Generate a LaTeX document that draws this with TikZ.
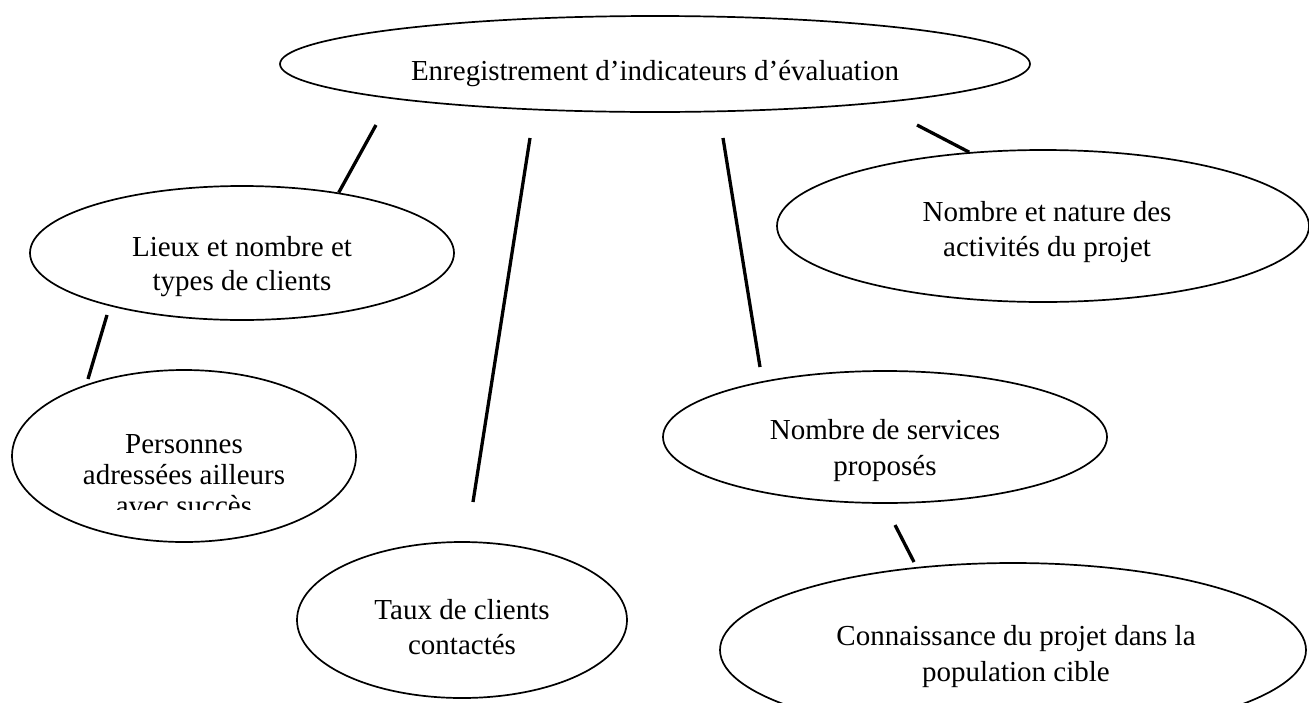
\documentclass[tikz,border=0pt]{standalone}
\usepackage{fontspec}
\setmainfont{Liberation Serif}
\usetikzlibrary{shapes.geometric}
\begin{document}
\begin{tikzpicture}[x=1pt,y=-1pt,
  bubble/.style={draw, ellipse, line width=1.7pt, inner sep=0pt},
  lbl/.style={align=center, font=\fontsize{29}{35}\selectfont, inner sep=0pt},
  conn/.style={line width=3.3pt}]
\useasboundingbox (0,0) rectangle (1309,702);
\clip (0,0) rectangle (1309,702);
% ellipses
\node[bubble, minimum width=750pt, minimum height=96pt]  (top)   at (655,64)  {};
\node[bubble, minimum width=424pt, minimum height=134pt] (lieux) at (242,253) {};
\node[bubble, minimum width=344pt, minimum height=172pt] (pers)  at (184,456) {};
\node[bubble, minimum width=330pt, minimum height=156pt] (taux)  at (462,620) {};
\node[bubble, minimum width=444pt, minimum height=132pt] (serv)  at (885,437) {};
\node[bubble, minimum width=532pt, minimum height=152pt] (nat)   at (1043,226) {};
\node[bubble, minimum width=586pt, minimum height=174pt] (conn)  at (1013,650) {};
% labels
\node[lbl] (ttop)   at (655,74)    {Enregistrement d’indicateurs d’évaluation};
\node[lbl, font=\fontsize{29}{34}\selectfont] (tlieux) at (242,267) {Lieux et nombre et\\types de clients};
\begin{scope}
  \clip (0,0) rectangle (400,509);
  \node[lbl, font=\fontsize{29}{31}\selectfont] (tpers) at (184,475) {Personnes\\adressées ailleurs\\avec succès};
\end{scope}
\node[lbl] (ttaux)  at (462,627.5) {Taux de clients\\contactés};
\node[lbl, font=\fontsize{29}{36}\selectfont] (tserv)  at (885,450.5) {Nombre de services\\proposés};
\node[lbl] (tnat)   at (1047,232.5) {Nombre et nature des\\activités du projet};
\node[lbl, font=\fontsize{29}{36}\selectfont] (tconn)  at (1016,657) {Connaissance du projet dans la\\population cible};
% free ends of connectors
\coordinate (e1) at (376,125);
\coordinate (e2a) at (530,138);
\coordinate (e2b) at (473,502);
\coordinate (e3a) at (723,138);
\coordinate (e3b) at (760,367);
\coordinate (e4) at (917,125);
\coordinate (e5a) at (107,315);
\coordinate (e5b) at (88,379);
\coordinate (e6a) at (895,525);
\coordinate (e6b) at (914,562);
% connectors
\draw[conn] (e1) -- (lieux.32.4);
\draw[conn] (e2a) -- (e2b);
\draw[conn] (e3a) -- (e3b);
\draw[conn] (e4) -- (nat.135);
\draw[conn] (e5a) -- (e5b);
\draw[conn] (e6a) -- (e6b);
\end{tikzpicture}
\end{document}
